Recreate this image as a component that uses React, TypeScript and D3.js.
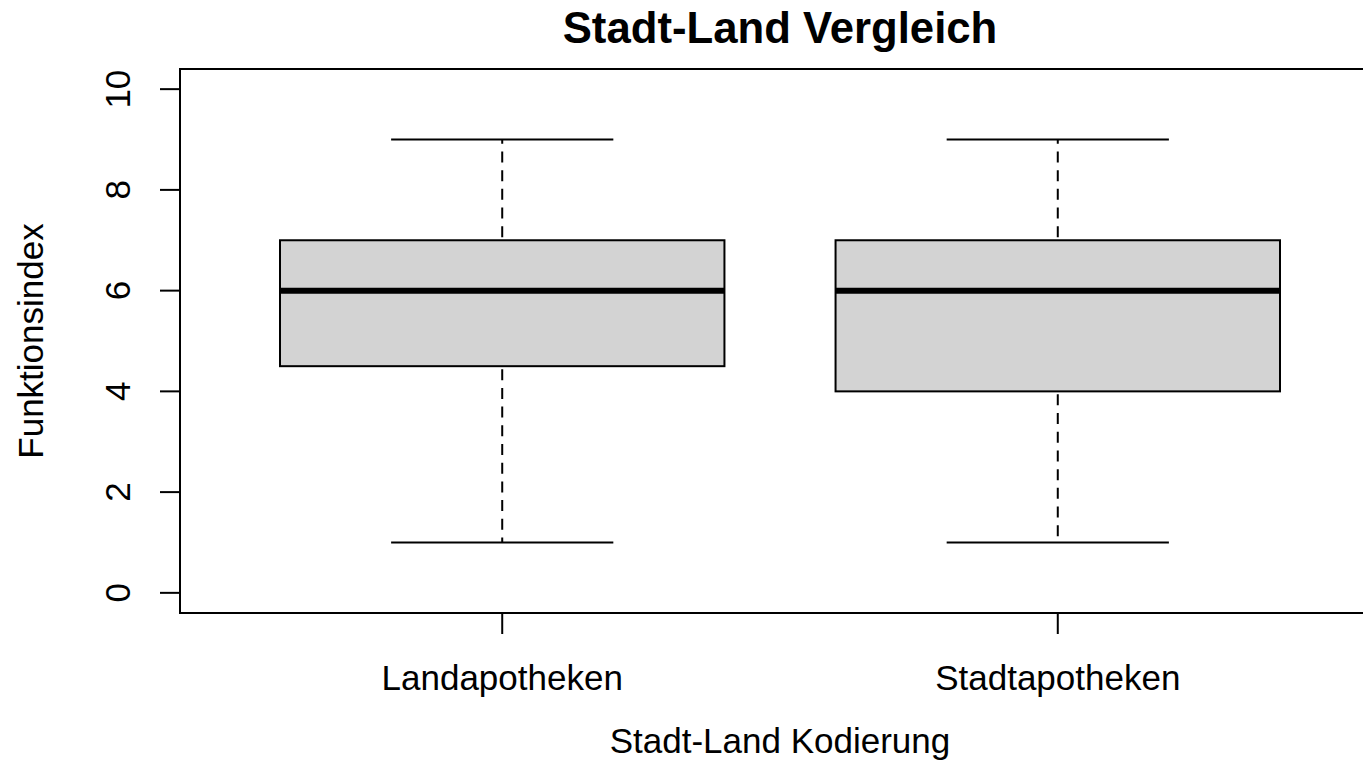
import React from 'react';
import * as d3 from 'd3';

const groups = ['Landapotheken', 'Stadtapotheken'];
const whiskerLow = [1, 1];
const q1 = [4.5, 4];
const medians = [6, 6];
const q3 = [7, 7];
const whiskerHigh = [9, 9];
const yTicks = [0, 2, 4, 6, 8, 10];

const title = 'Stadt-Land Vergleich';
const xTitle = 'Stadt-Land Kodierung';
const yTitle = 'Funktionsindex';

const W = 1363;
const H = 764;
const plot = { left: 180, right: 1380, top: 69, bottom: 613 };
const font = '"Liberation Sans", Arial, sans-serif';

const App: React.FC = () => {
  // R style axis ranges: 4% padding on both axes
  const x = d3.scaleLinear().domain([0.42, 2.58]).range([plot.left, plot.right]);
  const y = d3.scaleLinear().domain([-0.4, 10.4]).range([plot.bottom, plot.top]);

  const boxHalf = x(1.4) - x(1); // box width 0.8
  const capHalf = boxHalf / 2;

  const cx = (i: number) => x(i + 1);
  const midX = (plot.left + plot.right) / 2;
  const midY = (plot.top + plot.bottom) / 2;

  return (
    <svg width={W} height={H} style={{ position: 'absolute', left: 0, top: 0, background: '#fff' }}
      fontFamily={font}>
      <rect x={0} y={0} width={W} height={H} fill="#fff" />

      {groups.map((g, i) => (
        <g key={g} stroke="#000" fill="none">
          {/* whiskers */}
          <line x1={cx(i)} x2={cx(i)} y1={y(q3[i])} y2={y(whiskerHigh[i])} strokeWidth={2} strokeDasharray="11,7.7" strokeDashoffset={-3} />
          <line x1={cx(i)} x2={cx(i)} y1={y(q1[i])} y2={y(whiskerLow[i])} strokeWidth={2} strokeDasharray="11,7.7" strokeDashoffset={-3} />
          <line x1={cx(i) - capHalf} x2={cx(i) + capHalf} y1={y(whiskerHigh[i])} y2={y(whiskerHigh[i])} strokeWidth={2} />
          <line x1={cx(i) - capHalf} x2={cx(i) + capHalf} y1={y(whiskerLow[i])} y2={y(whiskerLow[i])} strokeWidth={2} />
          {/* box */}
          <rect x={cx(i) - boxHalf} y={y(q3[i])} width={boxHalf * 2} height={y(q1[i]) - y(q3[i])}
            fill="#d3d3d3" strokeWidth={2} />
          <line x1={cx(i) - boxHalf} x2={cx(i) + boxHalf} y1={y(medians[i])} y2={y(medians[i])} strokeWidth={6} />
        </g>
      ))}

      {/* frame */}
      <rect x={plot.left} y={plot.top} width={plot.right - plot.left} height={plot.bottom - plot.top}
        fill="none" stroke="#000" strokeWidth={2} />

      {/* y axis */}
      <g>
        <line x1={plot.left} x2={plot.left} y1={y(0)} y2={y(10)} stroke="#000" strokeWidth={2} />
        {yTicks.map(t => (
          <g key={t}>
            <line x1={plot.left - 20} x2={plot.left} y1={y(t)} y2={y(t)} stroke="#000" strokeWidth={2} />
            <text transform={`translate(130,${y(t)}) rotate(-90)`} textAnchor="middle" fontSize={35} fill="#000">{t}</text>
          </g>
        ))}
      </g>

      {/* x axis */}
      <g>
        {groups.map((g, i) => (
          <g key={g}>
            <line x1={cx(i)} x2={cx(i)} y1={plot.bottom} y2={plot.bottom + 21} stroke="#000" strokeWidth={2} />
            <text x={cx(i)} y={690} textAnchor="middle" fontSize={35} fill="#000">{g}</text>
          </g>
        ))}
      </g>

      <text x={midX} y={43} textAnchor="middle" fontSize={43.7} fontWeight="bold" fill="#000">{title}</text>
      <text x={midX} y={753} textAnchor="middle" fontSize={35} fill="#000">{xTitle}</text>
      <text transform={`translate(43,${midY}) rotate(-90)`} textAnchor="middle" fontSize={35} fill="#000">{yTitle}</text>
    </svg>
  );
};

export default App;
